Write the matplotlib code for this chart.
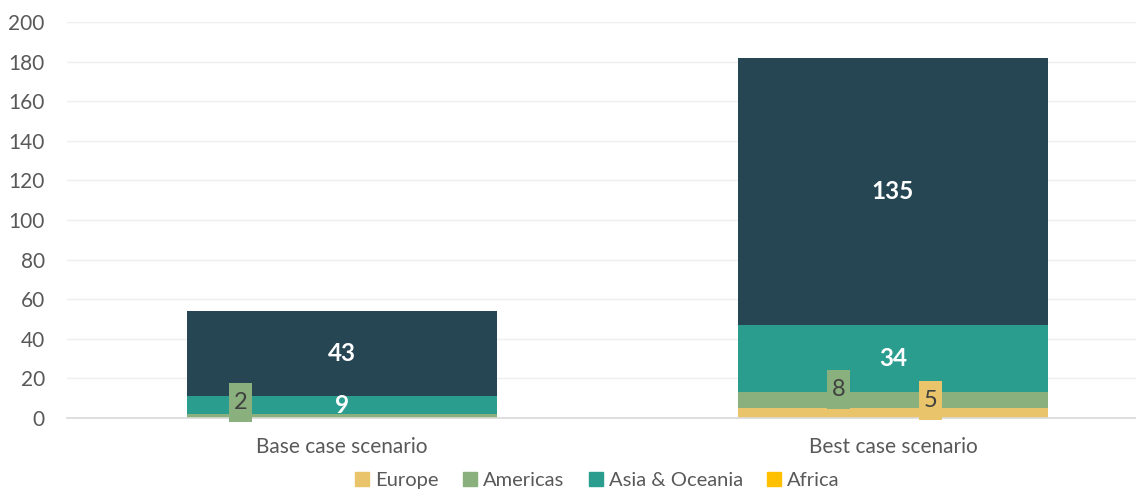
import numpy as np

import matplotlib.pyplot as plt
from matplotlib.patches import Patch, Rectangle

# Chart data
scenarios = ['Base case scenario', 'Best case scenario']
europe = [0, 5]
americas = [2, 8]
asia_oceania = [9, 34]
africa = [0, 0]
other = [43, 135]

series_names = ['Europe', 'Americas', 'Asia & Oceania', 'Africa', 'Other']
series_colors = ['#E9C46A', '#8AB17D', '#2A9D8F', '#FFC000', '#264653']


def main():
    plt.rcParams['font.family'] = ['Lato', 'DejaVu Sans']

    fig = plt.figure(figsize=(11.36, 4.95), dpi=100)
    ax = fig.add_axes([67 / 1136, 77 / 495, 1 - 67 / 1136, 396 / 495])

    x = np.arange(len(scenarios))
    width = 0.563
    data = [europe, americas, asia_oceania, africa, other]
    bottom = np.zeros(len(scenarios))
    bars = []
    for vals, color in zip(data, series_colors):
        b = ax.bar(x, vals, width, bottom=bottom, color=color, zorder=2)
        bars.append((b, np.array(vals), bottom.copy()))
        bottom += np.array(vals)

    # White bold labels for the large segments
    for b, vals, bot in [bars[2], bars[4]]:
        for xi, v, b0 in zip(x, vals, bot):
            ax.text(xi, b0 + v / 2, str(v), ha='center', va='center',
                    color='white', fontsize=17.5, fontweight='bold', zorder=4)

    # Small boxed labels for thin segments (offset in x, centre height)
    small = [(0, americas[0], -0.184, 7.8, series_colors[1]),
             (1, americas[1], -0.099, 14.6, series_colors[1]),
             (1, europe[1], 0.068, 8.6, series_colors[0])]
    bw, bh = 0.042, 19.7
    for xi, v, dx, y, color in small:
        ax.add_patch(Rectangle((xi + dx - bw / 2, y - bh / 2), bw, bh,
                               facecolor=color, edgecolor='none', zorder=3,
                               clip_on=False))
        ax.text(xi + dx, y, str(v), ha='center', va='center', color='#404040',
                fontsize=17, zorder=4)

    ax.set_xlim(-0.499, 1.441)
    ax.set_ylim(0, 200)
    ax.set_yticks(range(0, 201, 20))
    ax.set_xticks(x)
    ax.set_xticklabels(scenarios)
    ax.tick_params(axis='both', length=0, labelsize=15, labelcolor='#595959')
    ax.tick_params(axis='x', pad=14)
    ax.tick_params(axis='y', pad=16)

    ax.grid(axis='y', color='#EFEFEF', linewidth=1, zorder=0)
    for side in ['top', 'right', 'left']:
        ax.spines[side].set_visible(False)
    ax.spines['bottom'].set_color('#D9D9D9')
    ax.spines['bottom'].set_linewidth(1.2)

    handles = [Patch(color=c) for c in series_colors[:4]]
    fig.legend(handles, series_names[:4], loc='center', ncol=4,
               bbox_to_anchor=(0.526, 0.03), frameon=False, fontsize=14.5,
               labelcolor='#595959', handlelength=0.7, handleheight=0.7,
               handletextpad=0.3, columnspacing=1.2)

    plt.savefig('out.png', dpi=100)


if __name__ == '__main__':
    main()
